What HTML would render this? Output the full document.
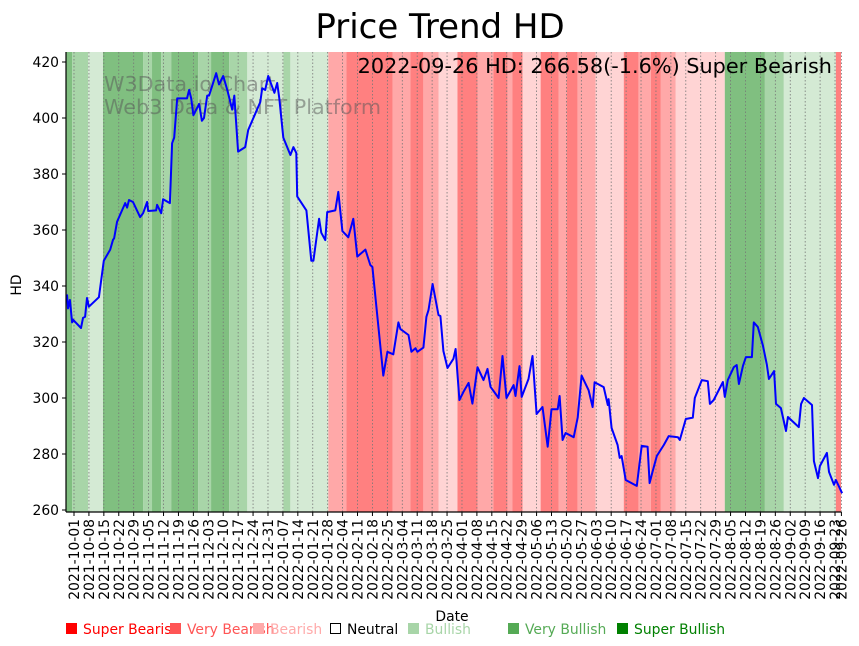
<!DOCTYPE html>
<html><head><meta charset="utf-8"><style>
body{margin:0;background:#fff;}
svg{display:block;font-family:"DejaVu Sans","Liberation Sans",sans-serif;}
</style></head><body>
<svg id="chart" width="859" height="646" viewBox="0 0 859 646">
<text x="440" y="38" font-size="34" text-anchor="middle" fill="#000">Price Trend HD</text>
<g id="bands"></g>
<g id="grid"></g>
<g fill="#555" fill-opacity="0.5" font-size="20.7">
<text x="104" y="91">W3Data.io Chart</text>
<text x="104" y="114">Web3 Data &amp; NFT Platform</text>
</g>
<path id="priceLine" fill="none" stroke="#0000ff" stroke-width="2" stroke-linejoin="round"/>
<text x="832" y="73" font-size="20.8" text-anchor="end" fill="#000">2022-09-26 HD: 266.58(-1.6%) Super Bearish</text>
<g id="xaxis"></g>
<g id="yaxis"></g>
<text x="452" y="621" font-size="13.9" text-anchor="middle">Date</text>
<text transform="translate(21,285) rotate(-90)" font-size="13.9" text-anchor="middle">HD</text>
<g id="legend" font-size="13.9"></g>
</svg>
<script>
const priceDays=[-3.3,-2.8,-1.9,-0.9,-0.5,3.3,4.2,5.2,6.1,7,11.7,14,17,18.3,18.8,20.2,24,24.9,25.8,27.7,31,32.4,34.3,34.8,38.5,39,40.9,41.8,45,46,47,48.4,53,54,55,56,58.7,60,61,62.5,63.4,66.7,68,70,71.9,74.2,75.2,77,80.3,81.7,87.4,88.3,89.7,91.1,94,95.3,96.3,98.2,101.5,102.9,104.3,104.7,109,111.3,112.3,115,116,117.9,118.8,122.6,124,125.9,128.7,131,132.9,136.7,139,140,145.1,147,149.8,152.2,153.1,156.9,158.3,160.2,161.1,163.9,165.3,166.3,168.2,171,171.9,173.3,175.2,178,179,180.8,182.7,185.1,186.9,189.3,192.1,194,195.4,199.2,201,202.9,206.2,207.1,209,210,213.2,215.1,217,219.8,222.2,224,226.9,227.8,229.2,230.6,234.4,236.3,238.1,241.4,243.3,244.2,248.5,250.4,250.8,252.2,255,256,256.9,258.8,264,266.3,269.1,270,271.4,273.4,276.7,279,283.3,284.2,287,290.3,291.2,294.5,297.3,298.3,300.1,304.4,305.3,306.7,309.5,310.9,311.9,313.8,315.2,318,318.9,320.8,323.2,325,326,328.4,329.3,331.6,334,334.9,340,341.1,342.4,346.2,347.1,349,349.9,353.2,354.2,356.5,357.4,360.3];
const priceValues=[337,332,335,327,328,325,328.6,329,335.7,332.6,336,349,353,356.5,357,363,369.6,368,370.7,370,364.6,366,370,366.8,367,369,366,371,369.6,391,393,407,407,410,407,401,405,399,400,408,408,416,412,415,410,403,408,388,389.6,395.7,405.7,410.6,410,415,409,412.5,407,393,386.8,389.6,387.5,372,367,349,349,364,359,356.4,366.4,367,373.6,359.6,357.4,364,350.5,353,347.5,346.8,308,316.5,315.6,327,324.6,322.5,316.5,317.8,316.5,318,329,331.4,340.7,329.6,329.3,316.8,310.7,314,317.5,299.3,302.2,305.4,298,311,306.4,310.4,304,300,315,300,304.6,300.7,311.4,300.4,306.8,315,294.3,296.8,282.6,296,296,300.7,285,287.5,286,293,308,302.8,296.8,305.6,303.9,297.5,299.6,289.3,283.2,278.6,279.3,270.7,268.6,282.9,282.6,269.6,273.6,279.3,283.2,286.4,286,285,292.5,293,300,306.4,306,297.9,299.3,305.7,300.4,306.4,311,311.8,305,311.4,314.6,314.6,327,325.4,318.6,312,306.8,309.6,297.9,296.4,288.2,293.2,289.6,297.9,300,297.5,277.5,271.4,275.7,280.4,273.6,269,270.7,266];
const bandStarts=[-4,-0.9,6.6,13.6,32.4,36.6,40.9,45.6,58.2,64.3,72.8,81.3,98.2,101.5,119.3,127.8,149.4,157.8,163.9,171,179.9,189.3,196.8,203.4,205.7,210.4,218.9,227.3,231.1,236.3,244.7,257.9,264.9,270.6,275.3,282.3,305.3,324.1,333,357.4];
const bandLevels=[3,2,1,3,2,3,2,3,2,3,2,1,2,1,-2,-3,-2,-3,-2,-1,-3,-2,-3,-2,-3,-1,-3,-2,-3,-2,-1,-3,-2,-3,-2,-1,3,2,1,-3];
const yTicks=[260,280,300,320,340,360,380,400,420];
const legendLabels=["Super Bearish","Very Bearish","Bearish","Neutral","Bullish","Very Bullish","Super Bullish"];

const NS="http://www.w3.org/2000/svg";
const L=66,R=841,T=52,B=512;
const DAYMAX=360.6;
const x=d=>74+d*2.1317;
const y=v=>118+(400-v)*2.8;
function mk(t,a,p){const e=document.createElementNS(NS,t);for(const k in a)e.setAttribute(k,a[k]);p.appendChild(e);return e;}
const bandColor={3:"#80bf80",2:"#a8d5a8",1:"#d4ead4","-1":"#ffd4d4","-2":"#ffa8a8","-3":"#ff8080"};
const bands=document.getElementById('bands');
bandStarts.forEach((s,i)=>{
  const e=i+1<bandStarts.length?bandStarts[i+1]:DAYMAX;
  const x0=Math.max(L,x(s)),x1=Math.min(R,x(e));
  const r=mk('rect',{x:x0,y:T,width:x1-x0,height:B-T,fill:bandColor[bandLevels[i]]},bands);
  
  
});
const start=new Date(Date.UTC(2021,9,1));
const tickDays=[];for(let d=0;d<=357;d+=7)tickDays.push(d);tickDays.push(360);
const fmt=d=>{const t=new Date(start.getTime()+d*864e5);return t.toISOString().slice(0,10);};
const grid=document.getElementById('grid'),xa=document.getElementById('xaxis');
tickDays.forEach(d=>{
  const px=x(d);
  const g=mk('line',{x1:px,x2:px,y1:T,y2:B,stroke:"#777","stroke-width":0.8,"stroke-dasharray":"1.5,2"},grid);
  
  
  const tk=mk('line',{x1:px,x2:px,y1:B,y2:B+4,stroke:"#000","stroke-width":1},xa);
  
  
  const t=mk('text',{transform:`translate(${px+5},${B+7}) rotate(-90)`,"font-size":13.9,"text-anchor":"end"},xa);
  t.textContent=fmt(d);
  
  
});
mk('line',{x1:L,x2:R,y1:B,y2:B,stroke:"#000","stroke-width":1.2},xa);
const ya=document.getElementById('yaxis');
yTicks.forEach(v=>{
  const py=y(v);
  const tk=mk('line',{x1:L-4,x2:L,y1:py,y2:py,stroke:"#000"},ya);
  
  
  const t=mk('text',{x:L-7,y:py+5,"font-size":13.9,"text-anchor":"end"},ya);
  t.textContent=v;
  
  
});
mk('line',{x1:L,x2:L,y1:T,y2:B,stroke:"#000","stroke-width":1.2},ya);
let dstr="";priceDays.forEach((d,i)=>{dstr+=(i?"L":"M")+Math.max(L,x(d)).toFixed(1)+","+y(priceValues[i]).toFixed(1);});
document.getElementById('priceLine').setAttribute('d',dstr);
const lg=document.getElementById('legend');
const lgX=[66,170,253,330,408,508,617];
const lgCol=["#ff0000","#ff5555","#ffaaaa","#000","#a8d5a8","#55aa55","#008000"];
legendLabels.forEach((lab,i)=>{
  const g=mk('g',{},lg);
  
  
  if(i===3)mk('rect',{x:lgX[i]+0.5,y:623.5,width:10,height:10,fill:"#fff",stroke:"#000"},g);
  else mk('rect',{x:lgX[i],y:623,width:11,height:11,fill:lgCol[i]},g);
  const t=mk('text',{x:lgX[i]+17,y:634,fill:lgCol[i]},g);
  t.textContent=lab;
});
</script>
</body></html>
